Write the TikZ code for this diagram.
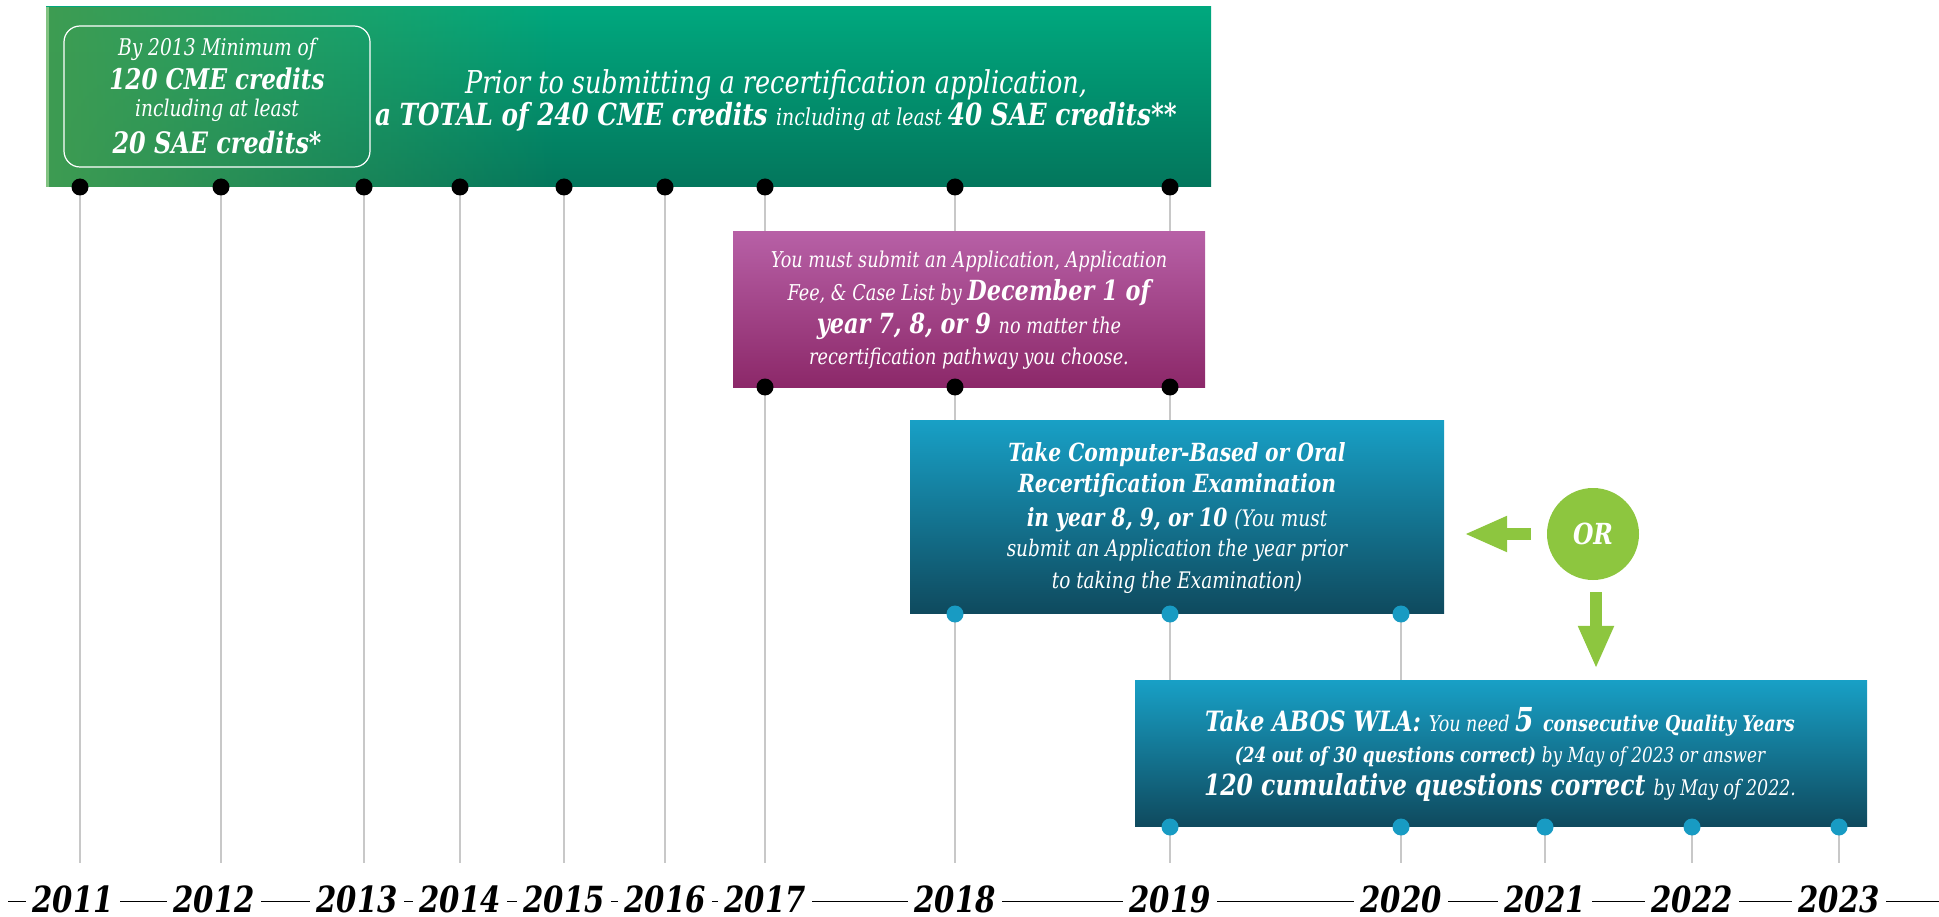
\documentclass[tikz,border=0pt]{standalone}
\usepackage{fontspec}
\setmainfont{DejaVu Serif Condensed}[FakeStretch=0.9]
\newfontfamily\yrfont{DejaVu Serif Condensed}[FakeStretch=0.9]
\usetikzlibrary{arrows.meta,fadings}
\definecolor{gtop}{RGB}{0,168,126}
\definecolor{gbot}{RGB}{3,118,92}
\definecolor{gleft}{RGB}{62,156,82}
\definecolor{gedge}{RGB}{130,195,130}
\definecolor{mtop}{RGB}{183,96,166}
\definecolor{mbot}{RGB}{140,40,105}
\definecolor{btop}{RGB}{24,160,198}
\definecolor{bbot}{RGB}{15,74,94}
\definecolor{orgreen}{RGB}{141,198,63}
\definecolor{dotblue}{RGB}{24,155,195}
\definecolor{gridgrey}{RGB}{200,200,200}
\newcommand{\fsz}[1]{\fontsize{#1}{#1}\selectfont}
\begin{document}
\begin{tikzpicture}[x=1pt,y=-1pt,
  box/.style={rectangle,inner sep=0,minimum width=#1},
  txt/.style={anchor=base,inner sep=0,text=white,font=\itshape},
  grid/.style={draw=gridgrey,line width=1.2},
  bdot/.style={circle,fill=black,inner sep=0,minimum size=17},
  udot/.style={circle,fill=dotblue,inner sep=0,minimum size=17},
  yr/.style={anchor=base,fill=white,inner xsep=6,inner ysep=0,font=\yrfont\fsz{36}\bfseries\itshape},
  orarrow/.style={draw=orgreen,line width=12,-{Triangle[width=33pt,length=43pt]}}]
\useasboundingbox (0,0) rectangle (1939,917);
% grid lines
\foreach \x in {80,221,364,460,564,665,765,955,1170}{\draw[grid] (\x,187) -- (\x,863);}
\draw[grid] (1401,614) -- (1401,863);
\foreach \x in {1545,1692,1839}{\draw[grid] (\x,827) -- (\x,863);}
% bottom axis
\draw[line width=1] (8,901) -- (1939,901);
\node[yr] (y11) at (73,912) {2011};
\node[yr] (y12) at (214,912) {2012};
\node[yr] (y13) at (357,912) {2013};
\node[yr] (y14) at (460,912) {2014};
\node[yr] (y15) at (564,912) {2015};
\node[yr] (y16) at (665,912) {2016};
\node[yr] (y17) at (765,912) {2017};
\node[yr] (y18) at (955,912) {2018};
\node[yr] (y19) at (1170,912) {2019};
\node[yr] (y20) at (1401,912) {2020};
\node[yr] (y21) at (1545,912) {2021};
\node[yr] (y22) at (1692,912) {2022};
\node[yr] (y23) at (1839,912) {2023};
% green banner
\node[box=1165,minimum height=180,top color=gtop,bottom color=gbot] (green) at (628.5,97) {};
\fill[gleft,path fading=east] (46,7) rectangle (560,187);
\fill[gedge] (46,7) rectangle (49,187);
\node[box=306,minimum height=141,draw=white,line width=1.2,rounded corners=16] (inner) at (217,96.5) {};
\node[txt] (i1) at (217,56) {\fsz{23}By 2013 Minimum of};
\node[txt] (i2) at (217,90) {\fsz{28.5}\bfseries 120 CME credits};
\node[txt] (i3) at (217,117) {\fsz{23}including at least};
\node[txt] (i4) at (217,154) {\fsz{29.5}\bfseries 20 SAE credits*};
\node[txt] (g1) at (776,94) {\fsz{31.5}Prior to submitting a recertification application,};
\node[txt] (g2) at (776,126) {\fsz{30.5}\bfseries a TOTAL of 240 CME credits \mdseries\fsz{23.3}including at least \bfseries\fsz{30.5}40 SAE credits**};
\foreach \x in {80,221,364,460,564,665,765,955,1170}{\node[bdot] at (\x,187) {};}
% magenta box
\node[box=472,minimum height=155,top color=mtop,bottom color=mbot] (app) at (969,309.5) {};
\node[txt] (a1) at (969,268) {\fsz{21.8}You must submit an Application, Application};
\node[txt] (a2) at (969,301) {\fsz{21.8}Fee, \& Case List by \bfseries\fsz{27.7}December 1 of};
\node[txt] (a3) at (969,334) {\fsz{27.7}\bfseries year 7, 8, or 9 \mdseries\fsz{21.8}no matter the};
\node[txt] (a4) at (969,365) {\fsz{21.8}recertification pathway you choose.};
\foreach \x in {765,955,1170}{\node[bdot] at (\x,387) {};}
% exam box
\node[box=534,minimum height=193,top color=btop,bottom color=bbot] (exam) at (1177,516.5) {};
\node[txt] (e1) at (1177,461) {\fsz{25}\bfseries Take Computer-Based or Oral};
\node[txt] (e2) at (1177,492) {\fsz{25}\bfseries Recertification Examination};
\node[txt] (e3) at (1177,526) {\fsz{25}\bfseries in year 8, 9, or 10 \mdseries\fsz{22.8}(You must};
\node[txt] (e4) at (1177,556) {\fsz{22.8}submit an Application the year prior};
\node[txt] (e5) at (1177,588) {\fsz{22.8}to taking the Examination)};
\foreach \x in {955,1170,1401}{\node[udot] at (\x,614) {};}
% WLA box
\node[box=732,minimum height=146,top color=btop,bottom color=bbot] (wla) at (1501,753) {};
\node[txt] (w1) at (1500,731) {\fsz{28}\bfseries Take ABOS WLA: \mdseries\fsz{21.7}You need \bfseries\fsz{33}5 \fsz{21.7}consecutive Quality Years};
\node[txt] (w2) at (1500,762) {\fsz{20.8}\bfseries (24 out of 30 questions correct) \mdseries by May of 2023 or answer};
\node[txt] (w3) at (1500,795) {\fsz{29}\bfseries 120 cumulative questions correct \mdseries\fsz{21.5}by May of 2022.};
\foreach \x in {1170,1401,1545,1692,1839}{\node[udot] at (\x,827) {};}
% OR
\node[circle,fill=orgreen,minimum size=92,inner sep=0,text=white,font=\fsz{29}\bfseries\itshape] (or) at (1593,534) {OR};
\draw[orarrow,shorten <=16,shorten >=20] (or.west) -- (or.west -| exam.east);
\draw[orarrow,shorten <=12,shorten >=11] ([xshift=3]or.south) -- ([xshift=3]or.south |- wla.north);
\end{tikzpicture}
\end{document}
